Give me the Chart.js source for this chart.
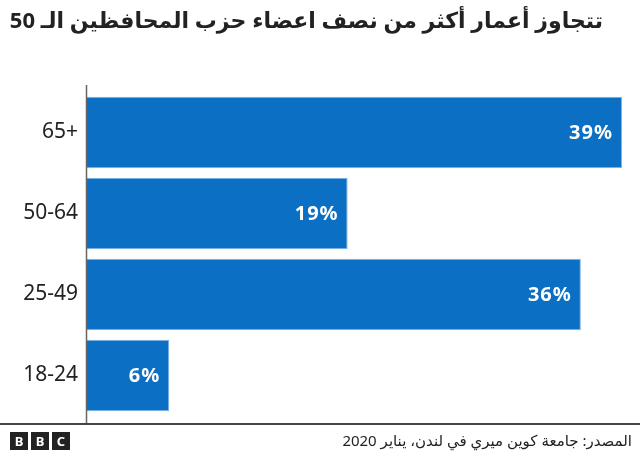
<!DOCTYPE html>
<html><head><meta charset="utf-8">
<script src="https://cdn.jsdelivr.net/npm/chart.js@4/dist/chart.umd.min.js"></script>
<style>
html,body{margin:0;padding:0;background:#fff;width:640px;height:453px;overflow:hidden;font-family:"Noto Sans","DejaVu Sans",sans-serif;}
#title{position:absolute;right:37px;top:4px;font-size:21px;font-weight:bold;color:#222;direction:rtl;white-space:nowrap;}
#wrap{position:absolute;left:0;top:0;width:640px;height:453px;}
#sep{position:absolute;left:0;top:423px;width:640px;height:2px;background:#444;}
#src{position:absolute;right:8px;top:430px;font-size:15px;color:#222;direction:rtl;white-space:nowrap;}
#bbc{position:absolute;left:10px;top:432px;display:flex;gap:3px;}
#bbc span{display:block;width:18px;height:18px;background:#222;color:#fff;font:bold 13px "Noto Sans",sans-serif;text-align:center;line-height:18px;}
</style></head><body>
<div id="wrap"><canvas id="c" width="640" height="453"></canvas></div>
<div id="title">تتجاوز أعمار أكثر من نصف اعضاء حزب المحافظين الـ 50</div>
<div id="sep"></div>
<div id="bbc"><span>B</span><span>B</span><span>C</span></div>
<div id="src">المصدر: جامعة كوين ميري في لندن، يناير 2020</div>
<script>
const categories = ["65+", "50-64", "25-49", "18-24"];
const values = [39, 19, 36, 6];
const valueLabels = ["39%", "19%", "36%", "6%"];

(function(){
  const t = document.getElementById('title');
  let fs = 23;
  t.style.fontSize = fs + 'px';
  while (t.getBoundingClientRect().width > 595 && fs > 14) { fs -= 0.5; t.style.fontSize = fs + 'px'; }
})();

const labelPlugin = {
  id: 'labels',
  afterDatasetsDraw(chart) {
    const ctx = chart.ctx;
    const meta = chart.getDatasetMeta(0);
    ctx.save();
    ctx.fillStyle = '#fff';
    ctx.font = 'bold 20px "Noto Sans", sans-serif';
    ctx.letterSpacing = '1px';
    ctx.textAlign = 'right';
    ctx.textBaseline = 'middle';
    meta.data.forEach((bar, i) => {
      ctx.fillText(valueLabels[i], bar.x - 9, bar.y + 1);
    });
    ctx.letterSpacing = '0px';
    const x = chart.scales.x.getPixelForValue(0);
    ctx.strokeStyle = '#666';
    ctx.lineWidth = 1.5;
    ctx.beginPath();
    ctx.moveTo(x - 0.5, 85);
    ctx.lineTo(x - 0.5, 423);
    ctx.stroke();
    ctx.restore();
  }
};

new Chart(document.getElementById('c'), {
  type: 'bar',
  data: {
    labels: categories,
    datasets: [{
      data: values,
      backgroundColor: '#0b6fc4',
      borderColor: '#7fb6e6',
      borderWidth: 1,
      borderSkipped: 'left',
      barPercentage: 0.88,
      categoryPercentage: 1.0
    }]
  },
  options: {
    indexAxis: 'y',
    responsive: false,
    animation: false,
    layout: { padding: { left: 0, right: 18, top: 92, bottom: 37 } },
    plugins: { legend: { display: false }, tooltip: { enabled: false } },
    scales: {
      x: { display: false, min: 0, max: 39 },
      y: {
        grid: { display: false },
        border: { display: false },
        ticks: { color: '#222', font: { size: 21, family: '"Noto Sans", sans-serif' }, padding: 1 },
        afterFit(scale) { scale.width = 87; }
      }
    }
  },
  plugins: [labelPlugin]
});
</script>
</body></html>
